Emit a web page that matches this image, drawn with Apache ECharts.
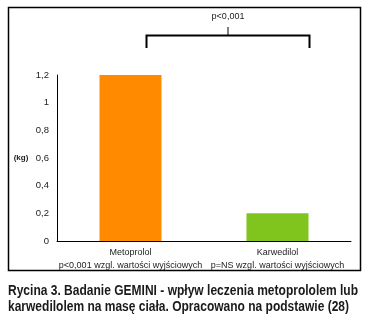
<!DOCTYPE html>
<html><head><meta charset="utf-8">
<script src="https://cdn.jsdelivr.net/npm/echarts@6/dist/echarts.min.js"></script>
<style>html,body{margin:0;padding:0;background:#fff}#c{width:367px;height:331px}</style>
</head><body><div id="c"></div>
<script>
var categories = ['Metoprolol', 'Karwedilol'];
var subLabels = ['p<0,001 wzgl. wartości wyjściowych', 'p=NS wzgl. wartości wyjściowych'];
var values = [1.2, 0.2];
var barColors = ['#FF8A00', '#80C41E'];
var yTicks = [0, 0.2, 0.4, 0.6, 0.8, 1, 1.2];
var unitLabel = '(kg)';
var pText = 'p<0,001';
var caption = ['Rycina 3. Badanie GEMINI - wpływ leczenia metoprololem lub', 'karwedilolem na masę ciała. Opracowano na podstawie (28)'];

var chart = echarts.init(document.getElementById('c'), null, {renderer: 'canvas'});
var option = {
  animation: false,
  backgroundColor: '#fff',
  grid: {left: 57, right: 16, top: 75, bottom: 90},
  xAxis: {
    type: 'category',
    data: categories.map(function (c, i) { return c + '\n' + subLabels[i]; }),
    axisLine: {lineStyle: {color: '#000', width: 1}},
    axisTick: {show: false},
    axisLabel: {color: '#222', fontSize: 9, fontFamily: 'Liberation Sans', lineHeight: 13, margin: 5, interval: 0}
  },
  yAxis: {
    type: 'value', min: yTicks[0], max: yTicks[yTicks.length - 1], interval: 0.2,
    axisLine: {show: true, lineStyle: {color: '#000', width: 1}},
    axisTick: {show: false},
    splitLine: {show: false},
    axisLabel: {color: '#222', fontSize: 9.5, fontFamily: 'Liberation Sans', margin: 8,
      formatter: function (v) { return String(Math.round(v * 10) / 10).replace('.', ','); }}
  },
  series: [{
    type: 'bar', barWidth: 62,
    data: values.map(function (v, i) { return {value: v, itemStyle: {color: barColors[i]}}; })
  }]
};
chart.setOption(option);

var p1 = chart.convertToPixel({seriesIndex: 0}, [0, 0]);
var p2 = chart.convertToPixel({seriesIndex: 0}, [1, 0]);
var bl = p1[0] + 16, br = p2[0] + 32, bm = (bl + br) / 2;
var mid = chart.convertToPixel({yAxisIndex: 0}, 0.6);

var capFont = 'bold 14px "Liberation Sans"';
var ctx = document.createElement('canvas').getContext('2d');
ctx.font = capFont;
var sx = [350 / ctx.measureText(caption[0]).width, 341 / ctx.measureText(caption[1]).width];

chart.setOption({
  graphic: [
    {type: 'rect', shape: {x: 8.5, y: 7.5, width: 352, height: 263}, style: {fill: 'none', stroke: '#000', lineWidth: 1.5}, silent: true},
    {type: 'polyline', shape: {points: [[bl, 48], [bl, 35.5], [br, 35.5], [br, 48]]}, style: {fill: 'none', stroke: '#000', lineWidth: 2}},
    {type: 'line', shape: {x1: bm, y1: 27, x2: bm, y2: 35.5}, style: {stroke: '#000', lineWidth: 1}},
    {type: 'text', x: bm, y: 17, style: {text: pText, fill: '#222', font: '9px "Liberation Sans"', textAlign: 'center', textVerticalAlign: 'middle'}},
    {type: 'text', x: 21, y: mid, style: {text: unitLabel, fill: '#222', font: 'bold 8px "Liberation Sans"', textAlign: 'center', textVerticalAlign: 'middle'}},
    {type: 'text', x: 8, y: 291, scaleX: sx[0], style: {text: caption[0], fill: '#1a1a1a', font: capFont, textAlign: 'left', textVerticalAlign: 'middle'}},
    {type: 'text', x: 8, y: 307, scaleX: sx[1], style: {text: caption[1], fill: '#1a1a1a', font: capFont, textAlign: 'left', textVerticalAlign: 'middle'}}
  ]
});
</script>
</body></html>
